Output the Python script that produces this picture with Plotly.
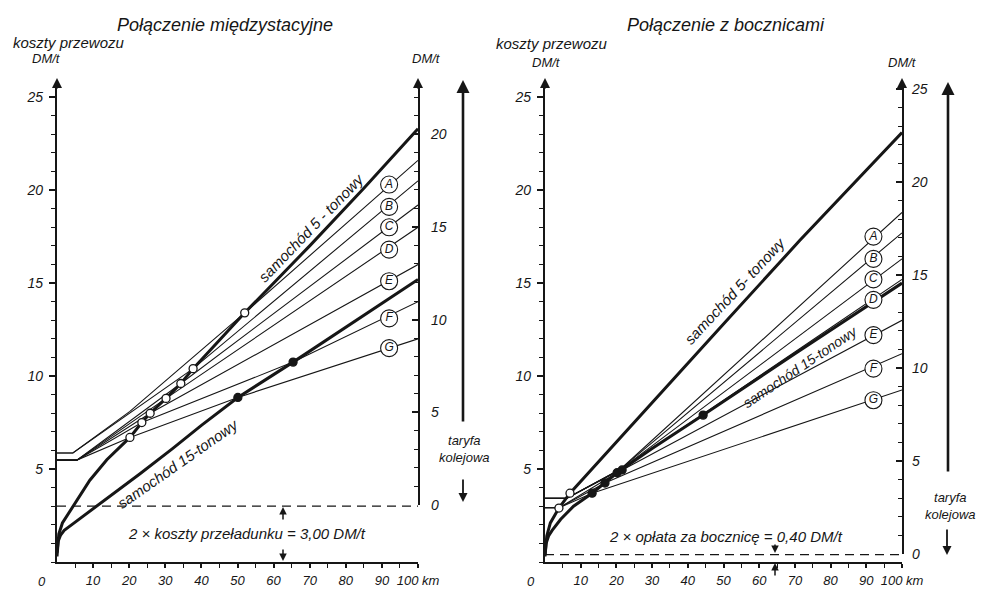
import plotly.graph_objects as go

W, H = 986, 589
FONT = "Liberation Sans"
INK = "#161616"

# ---------------- data (km, DM/t) ----------------
letters = ["A", "B", "C", "D", "E", "F", "G"]

# Left panel: Połączenie międzystacyjne
L_truck5_x = [0, 0.5, 1.5, 4.4, 9.1, 13.8, 20.2, 23.5, 25.8, 30.2, 34.3, 37.7, 52, 70, 85, 100]
L_truck5_y = [0.3, 1.5, 2.1, 3.0, 4.4, 5.5, 6.7, 7.5, 8.0, 8.8, 9.6, 10.4, 13.4, 17.0, 20.1, 23.3]
L_truck15_x = [0, 0.3, 1, 2, 4.4, 13.8, 23, 32, 40, 50.1, 65.4, 100]
L_truck15_y = [0.5, 1.1, 1.45, 1.7, 2.05, 3.4, 4.75, 6.1, 7.35, 8.85, 10.75, 15.2]
L_open_x = [20.2, 23.5, 25.8, 30.2, 34.3, 37.7, 52]
L_open_y = [6.7, 7.5, 8.0, 8.8, 9.6, 10.4, 13.4]
L_dot_x = [50.1, 65.4]
L_dot_y = [8.85, 10.75]
L_rail_A_x = [0, 4.4, 20.2, 52, 100]
L_rail_A_y = [5.86, 5.86, 8.1, 13.4, 21.6]
L_rail_B_x = [0, 4.4, 37.7, 100]
L_rail_B_y = [5.86, 5.86, 10.4, 20.5]
L_rail_C_x = [0, 5.5, 34.3, 100]
L_rail_C_y = [5.48, 5.48, 9.6, 19.2]
L_rail_D_x = [0, 5.5, 30.2, 100]
L_rail_D_y = [5.48, 5.48, 8.8, 18.0]
L_rail_E_x = [0, 5.5, 25.8, 100]
L_rail_E_y = [5.48, 5.48, 8.0, 16.0]
L_rail_F_x = [0, 5.5, 23.5, 65.4, 100]
L_rail_F_y = [5.48, 5.48, 7.5, 10.75, 14.0]
L_rail_G_x = [0, 5.5, 20.2, 50.1, 100]
L_rail_G_y = [5.48, 5.48, 6.7, 8.85, 12.0]
L_label_x = [92, 92, 92, 92, 92, 92, 92]
L_label_y = [20.3, 19.1, 18.0, 16.8, 15.1, 13.1, 11.5]
L_transfer = 3.0

# Right panel: Połączenie z bocznicami
R_truck5_x = [0, 0.5, 1.5, 3.9, 7.0, 15, 30, 50, 71.4, 100]
R_truck5_y = [0.3, 1.4, 2.1, 2.9, 3.7, 5.4, 8.6, 12.8, 17.3, 23.1]
R_truck15_x = [0, 0.3, 1, 2, 4.4, 8, 13.2, 16.8, 20.2, 30, 44.3, 70, 100]
R_truck15_y = [0.4, 1.0, 1.4, 1.7, 2.3, 3.0, 3.7, 4.25, 4.8, 6.1, 7.9, 11.2, 15.0]
R_open_x = [3.9, 7.0]
R_open_y = [2.9, 3.7]
R_dot_x = [13.2, 16.8, 20.2, 21.6, 44.3]
R_dot_y = [3.7, 4.25, 4.8, 4.95, 7.9]
R_rail_A_x = [0, 6, 21.2, 100]
R_rail_A_y = [3.42, 3.42, 5.0, 18.8]
R_rail_B_x = [0, 6, 21.0, 100]
R_rail_B_y = [3.42, 3.42, 4.97, 17.7]
R_rail_C_x = [0, 6, 20.8, 100]
R_rail_C_y = [3.42, 3.42, 4.93, 16.3]
R_rail_D_x = [0, 6, 20.2, 44.3, 100]
R_rail_D_y = [3.42, 3.42, 4.85, 7.95, 15.2]
R_rail_E_x = [0, 4, 20.2, 100]
R_rail_E_y = [2.92, 2.92, 4.8, 13.0]
R_rail_F_x = [0, 4, 16.8, 100]
R_rail_F_y = [2.92, 2.92, 4.25, 11.2]
R_rail_G_x = [0, 4, 13.2, 100]
R_rail_G_y = [2.92, 2.92, 3.7, 9.25]
R_label_x = [92, 92, 92, 92, 92, 92, 92]
R_label_y = [17.5, 16.3, 15.2, 14.1, 12.2, 10.4, 8.7]
R_siding = 0.4

x_tickvals = [10, 20, 30, 40, 50, 60, 70, 80, 90, 100]
x_ticktext = ["10", "20", "30", "40", "50", "60", "70", "80", "90", "100 km"]
y_left_ticks = [5, 10, 15, 20, 25]
y_rail_ticks_L = [0, 5, 10, 15, 20]
y_rail_ticks_R = [0, 5, 10, 15, 20, 25]

# ---------------- helpers ----------------
def PX(x):
    return x / W

def PY(y):
    return 1 - y / H

fig = go.Figure()

def line(x, y, xa, ya, width, dash="solid"):
    fig.add_trace(go.Scatter(x=x, y=y, xaxis=xa, yaxis=ya, mode="lines",
                             line=dict(color=INK, width=width, dash=dash),
                             hoverinfo="skip", showlegend=False))

def markers(x, y, xa, ya, fill, size=8):
    fig.add_trace(go.Scatter(x=x, y=y, xaxis=xa, yaxis=ya, mode="markers",
                             marker=dict(size=size, color=fill, line=dict(color=INK, width=1.3)),
                             hoverinfo="skip", showlegend=False))

def labels(x, y, xa, ya):
    fig.add_trace(go.Scatter(x=x, y=y, xaxis=xa, yaxis=ya, mode="markers+text",
                             text=letters, textposition="middle center",
                             textfont=dict(family=FONT, size=12, color=INK, style="italic"),
                             marker=dict(size=17, color="white", line=dict(color=INK, width=1.1)),
                             hoverinfo="skip", showlegend=False))

def panel(xa, ya, rails, t5x, t5y, t15x, t15y, ox, oy, dx, dy, lx, ly, base):
    line([0, 100], [base, base], xa, ya, 1.3, dash="9px,6px")
    for rx, ry in rails:
        line(rx, ry, xa, ya, 1.1)
    line(t15x, t15y, xa, ya, 3.0)
    line(t5x, t5y, xa, ya, 3.0)
    markers(ox, oy, xa, ya, "white", 8)
    markers(dx, dy, xa, ya, INK, 8)
    labels(lx, ly, xa, ya)

L_rails = [(L_rail_A_x, L_rail_A_y), (L_rail_B_x, L_rail_B_y), (L_rail_C_x, L_rail_C_y),
           (L_rail_D_x, L_rail_D_y), (L_rail_E_x, L_rail_E_y), (L_rail_F_x, L_rail_F_y),
           (L_rail_G_x, L_rail_G_y)]
R_rails = [(R_rail_A_x, R_rail_A_y), (R_rail_B_x, R_rail_B_y), (R_rail_C_x, R_rail_C_y),
           (R_rail_D_x, R_rail_D_y), (R_rail_E_x, R_rail_E_y), (R_rail_F_x, R_rail_F_y),
           (R_rail_G_x, R_rail_G_y)]

panel("x", "y", L_rails, L_truck5_x, L_truck5_y, L_truck15_x, L_truck15_y,
      L_open_x, L_open_y, L_dot_x, L_dot_y, L_label_x, L_label_y, L_transfer)
panel("x2", "y3", R_rails, R_truck5_x, R_truck5_y, R_truck15_x, R_truck15_y,
      R_open_x, R_open_y, R_dot_x, R_dot_y, R_label_x, R_label_y, R_siding)

# invisible anchors for the rail-tariff axes
fig.add_trace(go.Scatter(x=[50], y=[5], xaxis="x", yaxis="y2", mode="markers",
                         marker=dict(opacity=0), hoverinfo="skip", showlegend=False))
fig.add_trace(go.Scatter(x=[50], y=[5], xaxis="x2", yaxis="y4", mode="markers",
                         marker=dict(opacity=0), hoverinfo="skip", showlegend=False))

tickfont = dict(family=FONT, size=14, color=INK, style="italic")

def xaxis(domain, anchor):
    return dict(domain=domain, anchor=anchor, range=[0, 100], showgrid=False, zeroline=False,
                showline=True, linecolor=INK, linewidth=2, ticks="outside", ticklen=4,
                tickwidth=1.5, tickcolor=INK, tickvals=x_tickvals, ticktext=x_ticktext,
                tickfont=dict(family=FONT, size=13, color=INK, style="italic"),
                ticklabelstandoff=1, automargin=False,
                minor=dict(tickvals=list(range(5, 100, 10)), ticks="outside", ticklen=4,
                           tickcolor=INK, tickwidth=1.2))

def yaxis(domain, anchor, rng, tickvals, side="left", ticks="outside", standoff=6):
    return dict(domain=domain, anchor=anchor, range=rng, side=side, showgrid=False,
                zeroline=False, showline=True, linecolor=INK, linewidth=2.2, ticks=ticks,
                ticklen=6, tickwidth=1.5, tickcolor=INK, tickvals=tickvals,
                tickfont=tickfont, ticklabelstandoff=standoff, automargin=False,
                minor=dict(dtick=1, ticks=ticks, ticklen=4, tickcolor=INK, tickwidth=1.1))

fig.update_layout(
    width=W, height=H, margin=dict(l=0, r=0, t=0, b=0), template="none",
    paper_bgcolor="white", plot_bgcolor="rgba(0,0,0,0)", showlegend=False,
    xaxis=xaxis([PX(57), PX(418)], "y"),
    yaxis=yaxis([PY(562), PY(86)], "x", [0, 25.6], y_left_ticks, standoff=3),
    yaxis2=yaxis([PY(505), PY(86)], "x", [0, 22.6], y_rail_ticks_L, side="right",
                 ticks="inside", standoff=8),
    xaxis2=xaxis([PX(545), PX(902)], "y3"),
    yaxis3=yaxis([PY(562), PY(86)], "x2", [0, 25.6], y_left_ticks, standoff=3),
    yaxis4=yaxis([PY(554), PY(86)], "x2", [0, 25.16], y_rail_ticks_R, side="right",
                 ticks="inside", standoff=5),
)

ann = []

def text(px_, py_, s, size=14, angle=0, ref=None):
    d = dict(text=s, showarrow=False, textangle=angle, xanchor="center", yanchor="middle",
             font=dict(family=FONT, size=size, color=INK, style="italic"))
    if ref is None:
        d.update(x=PX(px_), y=PY(py_), xref="paper", yref="paper")
    else:
        d.update(x=px_, y=py_, xref=ref[0], yref=ref[1])
    ann.append(d)

def arrow(px_, py_, length, width=2.0):
    ann.append(dict(x=PX(px_), y=PY(py_), xref="paper", yref="paper", text="",
                    showarrow=True, ax=0, ay=length, arrowhead=2, arrowsize=1,
                    arrowwidth=width, arrowcolor=INK))

# titles and axis captions
text(225, 25, "Połączenie międzystacyjne", 18)
text(726, 25, "Połączenie z bocznicami", 18)
text(69, 42, "koszty przewozu", 15)
text(46, 58, "DM/t", 13)
text(426, 59, "DM/t", 13)
text(552, 43, "koszty przewozu", 15)
text(546, 62, "DM/t", 13)
text(902, 62, "DM/t", 13)
text(42, 581, "0", 13)
text(531, 581, "0", 13)
text(464, 449, "taryfa<br>kolejowa", 13)
text(950, 506, "taryfa<br>kolejowa", 13)

# curve captions (data coordinates)
text(70.4, 18.0, "samochód 5 - tonowy", 15, -46, ("x", "y"))
text(33.5, 5.3, "samochód 15-tonowy", 15, -35, ("x", "y"))
text(52.5, 1.55, "2 × koszty przeładunku = 3,00 DM/t", 15, 0, ("x", "y"))
text(53.2, 14.6, "samochód 5- tonowy", 15, -47, ("x2", "y3"))
text(71.4, 10.5, "samochód 15-tonowy", 14, -34, ("x2", "y3"))
text(50.7, 1.35, "2 × opłata za bocznicę = 0,40 DM/t", 15, 0, ("x2", "y3"))

# arrows
arrow(57, 78, 12)
arrow(418, 78, 12)
arrow(463, 80, 343, 2.6)
arrow(463, 502, -24, 1.8)
arrow(283, 507, 14, 1.5)
arrow(283, 561, -13, 1.5)
arrow(545, 78, 12)
arrow(902, 78, 12)
arrow(948, 82, 391, 2.6)
arrow(947, 555, -27, 1.8)
arrow(775, 553, -10, 1.5)
arrow(775, 563, 14, 1.5)

fig.update_layout(annotations=ann)
fig.write_html("out.html")
